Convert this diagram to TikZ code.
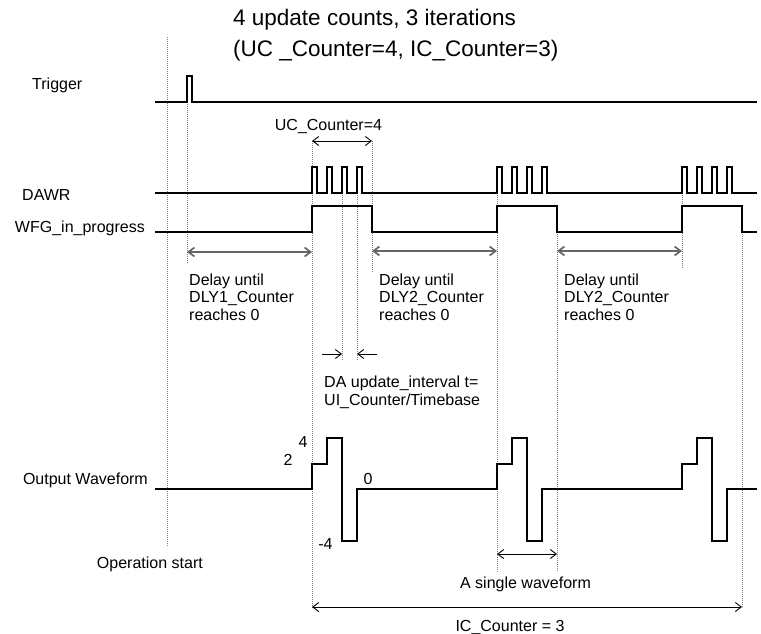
\documentclass[tikz,border=0pt]{standalone}
\usepackage{fontspec}
\setmainfont{Liberation Sans}
\usetikzlibrary{arrows.meta}
\tikzset{%
    sig/.style={line width=1.1pt},
    guide/.style={gray, line width=0.7pt, dash pattern=on 1pt off 1pt},
    dim/.style={line width=0.9pt,
        {Straight Barb[length=6pt,width=9pt]}-{Straight Barb[length=6pt,width=9pt]}},
    delay/.style={dim, line width=1.7pt, black!60},
    half/.style={line width=0.9pt, -{Straight Barb[length=6pt,width=9pt]}},
    lbl/.style={font=\fontsize{16}{17.5}\selectfont, inner sep=0pt, align=left}
}

\begin{document}
\begin{tikzpicture}[x=1pt,y=-1pt]
    \useasboundingbox (0,0) rectangle (761,634);
    % title
    \node[lbl, font=\fontsize{22.5}{24}\selectfont, anchor=base west] (title) at (233,26) {4 update counts, 3 iterations};
    \node[lbl, font=\fontsize{22.5}{24}\selectfont, anchor=base west] (subtitle) at (233,57) {(UC \_Counter=4, IC\_Counter=3)};
    % signal names
    \node[lbl, anchor=base west] (trig) at (32,90) {Trigger};
    \node[lbl, anchor=base west] (dawr) at (22,200) {DAWR};
    \node[lbl, anchor=base east] (wfg) at (145,232) {WFG\_in\_progress};
    \node[lbl, anchor=base east] (outw) at (148,484) {Output Waveform};
    \node[lbl, anchor=base east] (opstart) at (203,568) {Operation start};
    % guide lines
    \foreach \x/\a/\b in {167/37/547, 187/102/263, 312/141/608, 372/141/273,
        342/193/360, 357/193/360, 497/193/572, 557/232/572, 682/193/268, 742/232/608}
    {
    \draw[guide] (\x,\a) -- (\x,\b);
    }
    % signals
    \draw[sig] (155,102) -- (187,102) -- (187,76) -- (192,76) -- (192,102) -- (757,102);
    \draw[sig] (155,193) foreach \g in {312,497,682} {
        foreach \k in {0,15,30,45} { -- (\g+\k,193) -- (\g+\k,167) -- (\g+\k+5,167) -- (\g+\k+5,193) }
        } -- (757,193);
    \draw[sig] (155,232) foreach \g in {312,497,682} {
        -- (\g,232) -- (\g,206) -- (\g+60,206) -- (\g+60,232)
        } -- (757,232);
    \draw[sig] (155,489) foreach \g in {312,497,682} {
        -- (\g,489) -- (\g,464) -- (\g+15,464) -- (\g+15,438) -- (\g+30,438)
        -- (\g+30,541) -- (\g+45,541) -- (\g+45,489)
        } -- (757,489);
    % ends of the arrows
    \coordinate (uca) at (312,141);
    \coordinate (ucb) at (372,141);
    \coordinate (d1a) at (187,252);
    \coordinate (d1b) at (312,252);
    \coordinate (d2a) at (372,251);
    \coordinate (d2b) at (497,251);
    \coordinate (d3a) at (557,251);
    \coordinate (d3b) at (682,251);
    \coordinate (uia) at (322,354);
    \coordinate (uib) at (342,354);
    \coordinate (uic) at (357,354);
    \coordinate (uid) at (377,354);
    \coordinate (swa) at (497,554);
    \coordinate (swb) at (557,554);
    \coordinate (ica) at (312,607);
    \coordinate (icb) at (742,607);
    \draw[dim] (uca) -- (ucb);
    \draw[delay] (d1a) -- (d1b);
    \draw[delay] (d2a) -- (d2b);
    \draw[delay] (d3a) -- (d3b);
    \draw[half] (uia) -- (uib);
    \draw[half] (uid) -- (uic);
    \draw[dim] (swa) -- (swb);
    \draw[dim] (ica) -- (icb);
    % texts (base = last line)
    \node[lbl, anchor=base] (uc) at (328.5,130) {UC\_Counter=4};
    \node[lbl, anchor=base west] (dly1) at (189,320) {Delay until\\DLY1\_Counter\\reaches 0};
    \node[lbl, anchor=base west] (dly2) at (379,320) {Delay until\\DLY2\_Counter\\reaches 0};
    \node[lbl, anchor=base west] (dly3) at (564,320) {Delay until\\DLY2\_Counter\\reaches 0};
    \node[lbl, anchor=base west] (daint) at (324,405) {DA update\_interval t=\\UI\_Counter/Timebase};
    \node[lbl, anchor=base] (v4) at (303,447) {4};
    \node[lbl, anchor=base] (v2) at (288,465) {2};
    \node[lbl, anchor=base] (v0) at (368,484) {0};
    \node[lbl, anchor=base] (vm4) at (325.5,549) {-4};
    \node[lbl, anchor=base] (single) at (525.5,588) {A single waveform};
    \node[lbl, anchor=base] (ic) at (510,631.5) {IC\_Counter = 3};
\end{tikzpicture}
\end{document}
